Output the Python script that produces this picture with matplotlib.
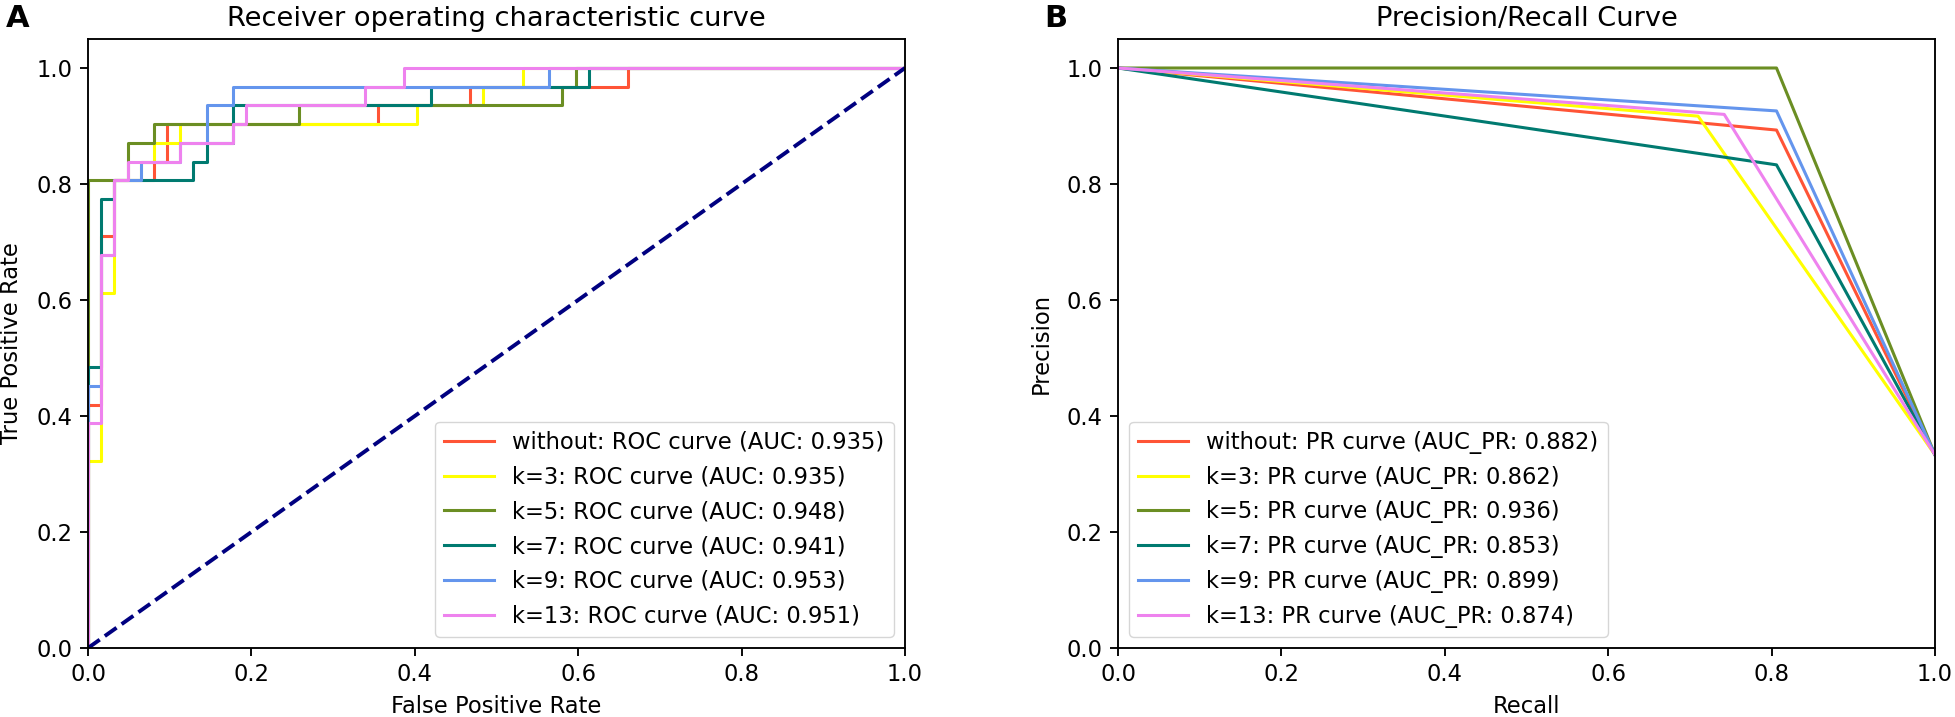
import matplotlib
matplotlib.use("Agg")
import matplotlib.pyplot as plt

# ---------------- data ----------------
N_NEG = 62   # negatives (FPR step = 1/62)
N_POS = 31   # positives (TPR step = 1/31)

labels = ["without", "k=3", "k=5", "k=7", "k=9", "k=13"]
colors = ["#FF5436", "#FFFF00", "#6B8E23", "#007A70", "#6495ED", "#EE82EE"]

roc_auc = [0.935, 0.935, 0.948, 0.941, 0.953, 0.951]
pr_auc = [0.882, 0.862, 0.936, 0.853, 0.899, 0.874]

# ROC change points (counts of false positives / true positives)
roc_fp_without = [0, 0, 1, 2, 5, 6, 22, 29, 41, 62]
roc_tp_without = [0, 13, 22, 25, 26, 28, 29, 30, 31, 31]
roc_fp_k3 = [0, 0, 1, 2, 4, 5, 7, 25, 30, 33, 62]
roc_tp_k3 = [0, 10, 19, 25, 26, 27, 28, 29, 30, 31, 31]
roc_fp_k5 = [0, 0, 3, 5, 16, 36, 37, 62]
roc_tp_k5 = [0, 25, 27, 28, 29, 30, 31, 31]
roc_fp_k7 = [0, 0, 1, 2, 8, 9, 11, 26, 38, 62]
roc_tp_k7 = [0, 15, 24, 25, 26, 27, 29, 30, 31, 31]
roc_fp_k9 = [0, 0, 1, 2, 4, 7, 9, 11, 35, 62]
roc_tp_k9 = [0, 14, 21, 25, 26, 27, 29, 30, 31, 31]
roc_fp_k13 = [0, 0, 1, 2, 3, 7, 11, 12, 21, 24, 62]
roc_tp_k13 = [0, 12, 21, 25, 26, 27, 28, 29, 30, 31, 31]

roc_fp = [roc_fp_without, roc_fp_k3, roc_fp_k5, roc_fp_k7, roc_fp_k9, roc_fp_k13]
roc_tp = [roc_tp_without, roc_tp_k3, roc_tp_k5, roc_tp_k7, roc_tp_k9, roc_tp_k13]

# PR curve vertices
pr_recall_without = [0.0, 0.806, 1.0]
pr_prec_without = [1.0, 0.893, 0.333]
pr_recall_k3 = [0.0, 0.710, 1.0]
pr_prec_k3 = [1.0, 0.917, 0.333]
pr_recall_k5 = [0.0, 0.806, 1.0]
pr_prec_k5 = [1.0, 1.000, 0.333]
pr_recall_k7 = [0.0, 0.806, 1.0]
pr_prec_k7 = [1.0, 0.833, 0.333]
pr_recall_k9 = [0.0, 0.806, 1.0]
pr_prec_k9 = [1.0, 0.926, 0.333]
pr_recall_k13 = [0.0, 0.742, 1.0]
pr_prec_k13 = [1.0, 0.920, 0.333]

pr_recall = [pr_recall_without, pr_recall_k3, pr_recall_k5, pr_recall_k7, pr_recall_k9, pr_recall_k13]
pr_prec = [pr_prec_without, pr_prec_k3, pr_prec_k5, pr_prec_k7, pr_prec_k9, pr_prec_k13]

ticks = [0.0, 0.2, 0.4, 0.6, 0.8, 1.0]

# ---------------- style ----------------
plt.rcParams["font.family"] = ["DejaVu Sans"]
FS = 16.3
plt.rcParams.update({
    "font.size": FS,
    "axes.linewidth": 1.35,
    "xtick.major.width": 1.35,
    "ytick.major.width": 1.35,
    "xtick.major.size": 6,
    "ytick.major.size": 6,
    "xtick.major.pad": 5,
    "ytick.major.pad": 5,
    "xtick.labelsize": FS,
    "ytick.labelsize": FS,
})

fig = plt.figure(figsize=(19.55, 7.17), dpi=100)
AX_BOTTOM = 1 - 648 / 717
AX_HEIGHT = (648 - 39) / 717
axA = fig.add_axes([88 / 1955, AX_BOTTOM, 817 / 1955, AX_HEIGHT])
axB = fig.add_axes([1118 / 1955, AX_BOTTOM, 817 / 1955, AX_HEIGHT])

# ---- ROC ----
for fp, tp, lab, c, auc in zip(roc_fp, roc_tp, labels, colors, roc_auc):
    x = [v / N_NEG for v in fp]
    y = [v / N_POS for v in tp]
    axA.step(x, y, where="post", color=c, lw=2.2,
             label=f"{lab}: ROC curve (AUC: {auc:.3f})")
axA.plot([0, 1], [0, 1], color="navy", lw=2.8, linestyle="--")
axA.set_xlim(0, 1)
axA.set_ylim(0, 1.05)
axA.set_xticks(ticks)
axA.set_yticks(ticks)
axA.set_xlabel("False Positive Rate", fontsize=FS, labelpad=6)
axA.set_ylabel("True Positive Rate", fontsize=FS, labelpad=10)
axA.set_title("Receiver operating characteristic curve", fontsize=19.6, pad=9)
axA.legend(loc="lower right", fontsize=FS, handlelength=2.2, labelspacing=0.52)

# ---- PR ----
for r, p, lab, c, auc in zip(pr_recall, pr_prec, labels, colors, pr_auc):
    axB.plot(r, p, color=c, lw=2.2, label=f"{lab}: PR curve (AUC_PR: {auc:.3f})")
axB.set_xlim(0, 1)
axB.set_ylim(0, 1.05)
axB.set_xticks(ticks)
axB.set_yticks(ticks)
axB.set_xlabel("Recall", fontsize=FS, labelpad=6)
axB.set_ylabel("Precision", fontsize=FS, labelpad=10)
axB.set_title("Precision/Recall Curve", fontsize=19.6, pad=9)
axB.legend(loc="lower left", fontsize=FS, handlelength=2.2, labelspacing=0.52)

fig.text(0.003, 0.995, "A", fontsize=22, fontweight="bold", va="top", ha="left")
fig.text(0.534, 0.995, "B", fontsize=22, fontweight="bold", va="top", ha="left")

fig.savefig("out.png", dpi=100)
